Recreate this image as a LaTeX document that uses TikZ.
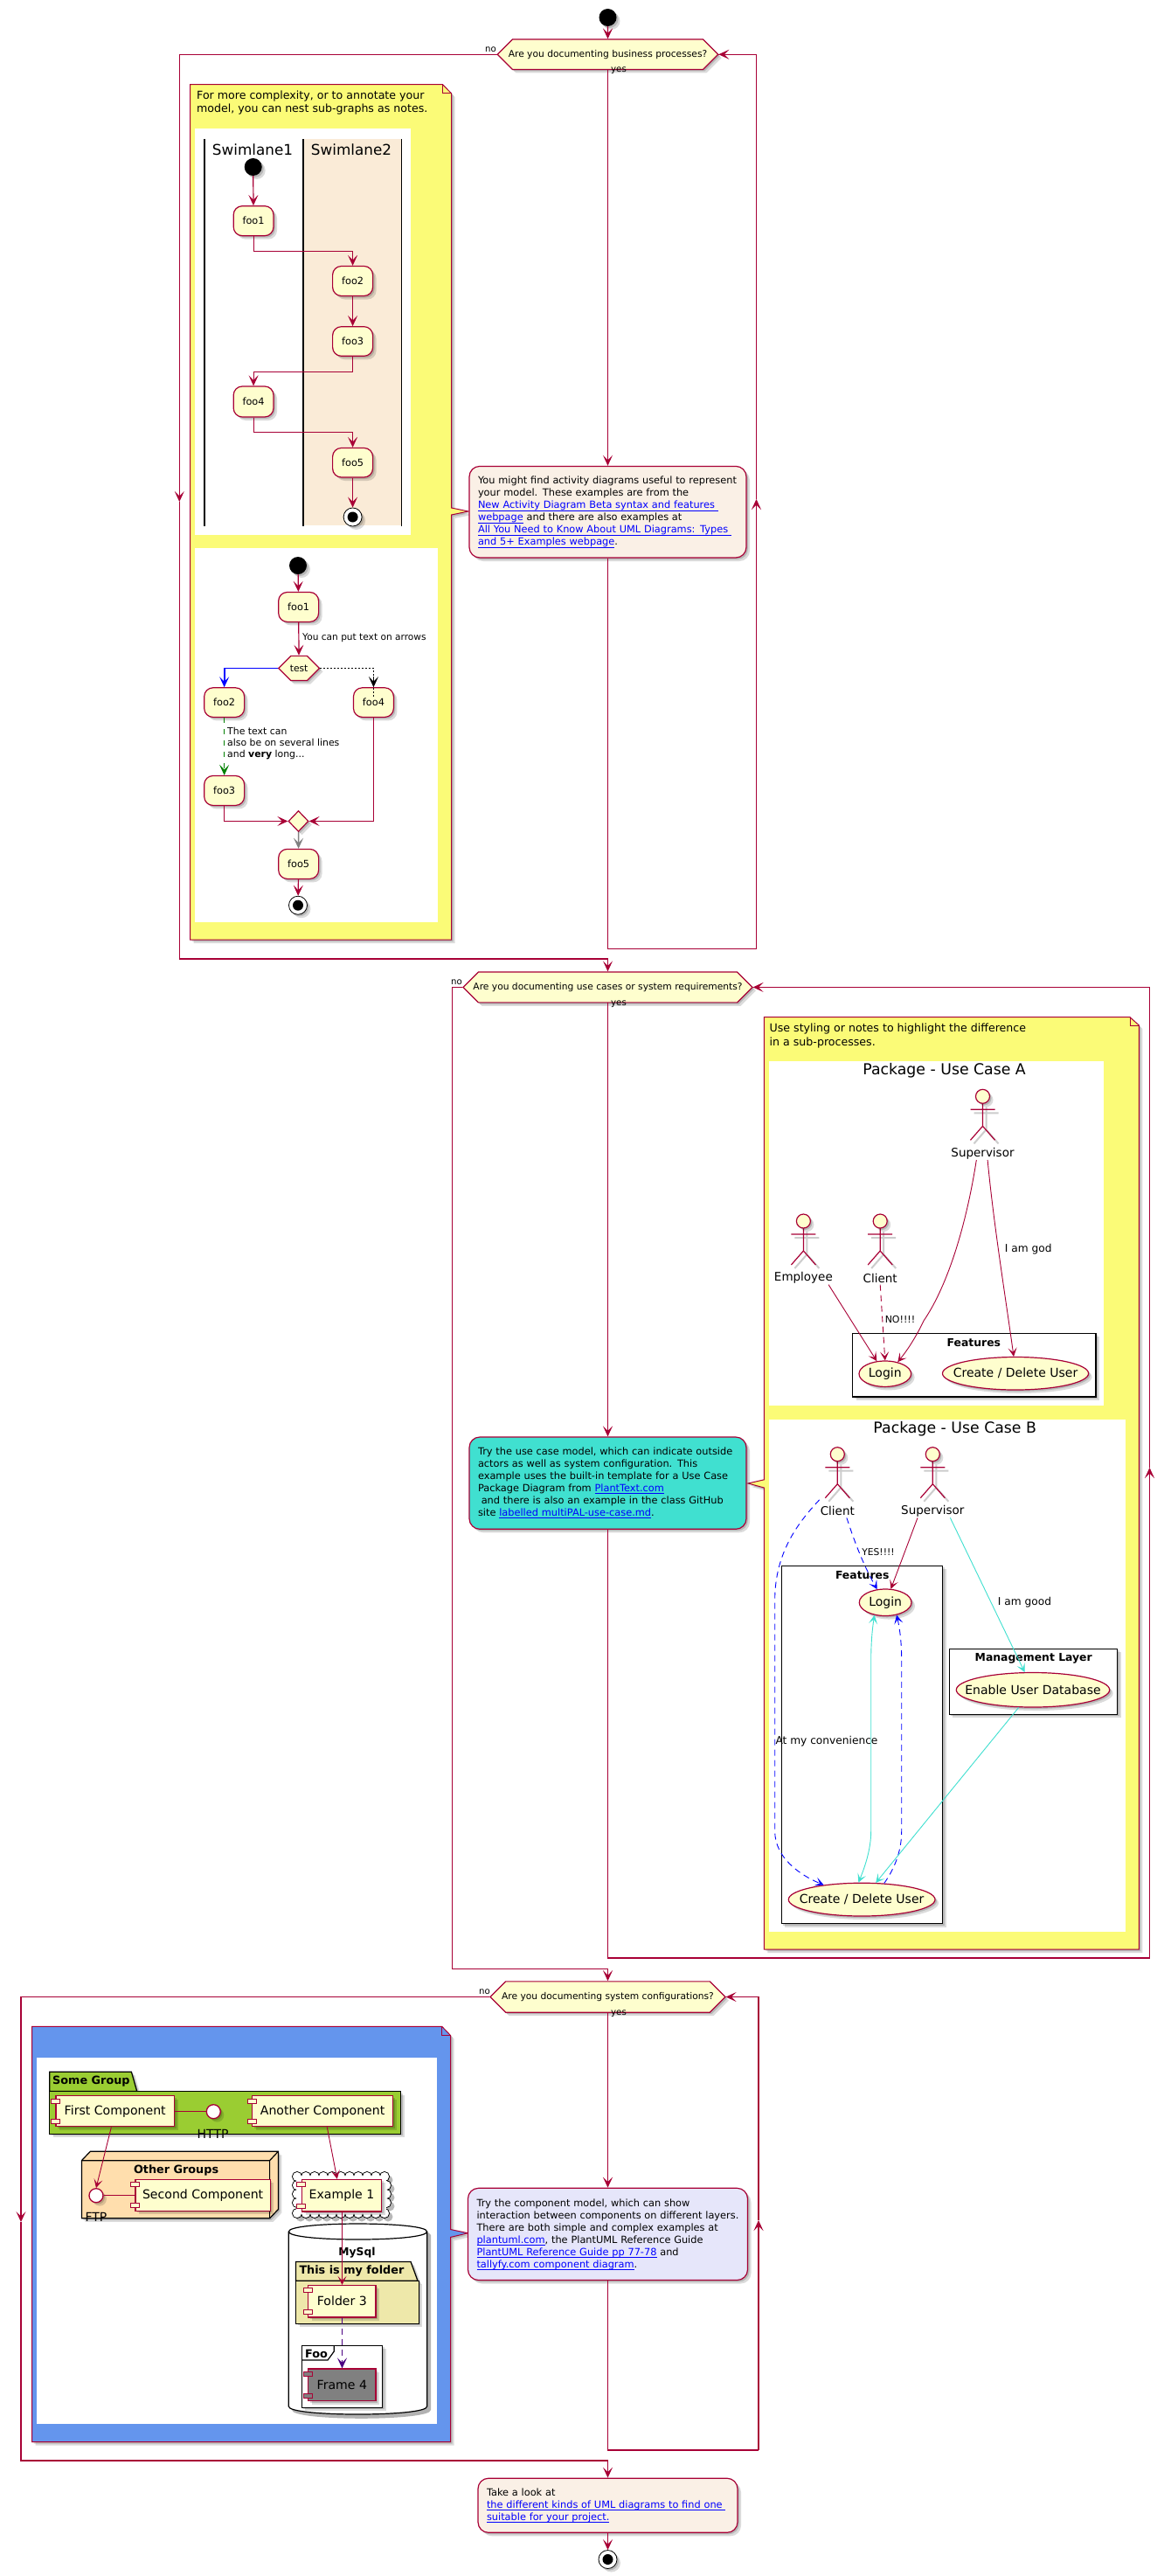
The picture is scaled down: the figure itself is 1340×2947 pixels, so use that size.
\documentclass[tikz,border=0pt]{standalone}
\usepackage{fontspec}
\setmainfont{DejaVu Sans}
\usetikzlibrary{arrows.meta,shapes.geometric,shapes.misc,shadows,calc}
\definecolor{crim}{HTML}{A80036}
\definecolor{pale}{HTML}{FEFECE}
\definecolor{noteyel}{HTML}{FBFB77}
\definecolor{lane}{HTML}{FAEBD7}
\definecolor{linenc}{HTML}{FAF0E6}
\definecolor{turq}{HTML}{40E0D0}
\definecolor{lav}{HTML}{E6E6FA}
\definecolor{cornf}{HTML}{6495ED}
\definecolor{ygreen}{HTML}{9ACD32}
\definecolor{navajo}{HTML}{FFDEAD}
\definecolor{goldn}{HTML}{EEE8AA}
\definecolor{indig}{HTML}{4B0082}
\definecolor{grayc}{HTML}{808080}
\newlength\lnkw
\newcommand\lnk[1]{\settowidth\lnkw{#1}{\color{blue}\rlap{\rule[-2.4pt]{\lnkw}{.7pt}}#1}}
\newcommand\LL[1]{\makebox[0pt][l]{#1}}
\newcommand\ZZ[1]{\makebox[0pt]{#1}}
\newcommand\fs[2]{\fontsize{#1}{#2}\selectfont}
\tikzset{
 softshadow/.style={drop shadow={shadow xshift=2pt,shadow yshift=-2pt,fill=black,opacity=.16},drop shadow={shadow xshift=4pt,shadow yshift=-4pt,fill=black,opacity=.14}},
 cbox/.style args={#1/#2/#3/#4}{at={({(#1+#3)/2},{(#2+#4)/2})},minimum width={(#3-#1)*1pt},minimum height={(#4-#2)*1pt},inner sep=0pt},
 flowline/.style={draw=crim,line width=1.2pt},
 bigtip/.style={-{Stealth[length=12pt,width=11pt,inset=5.5pt]}},
 flow/.style={flowline,bigtip},
 thinl/.style={draw=crim,line width=.9pt},
 thina/.style={thinl,-{Stealth[length=10pt,width=10pt,inset=5pt]}},
 lab/.style={inner sep=0pt,font=\fs{10.2}{12}},
 foo/.style={draw=crim,line width=1.2pt,fill=pale,rounded corners=10pt,softshadow,font=\fs{11.3}{13}},
 hexq/.style={chamfered rectangle,chamfered rectangle xsep=11pt,draw=crim,line width=1.2pt,fill=pale,softshadow,font=\fs{10.7}{12}},
 startc/.style={circle,fill=black,minimum size=20pt,inner sep=0pt,softshadow},
 endo/.style={circle,draw=black,fill=white,line width=.8pt,minimum size=21pt,inner sep=0pt,softshadow},
 endi/.style={circle,fill=black,minimum size=12pt,inner sep=0pt},
 notepath/.style={draw=crim,line width=1pt,softshadow},
 nodetext/.style={inner sep=0pt,align=left,anchor=north west,font=\fs{12.6}{15}},
 actnote/.style={draw=crim,line width=1.2pt,rounded corners=12pt,softshadow,align=left,font=\fs{11.35}{14}},
 ucase/.style={ellipse,draw=crim,line width=1.2pt,fill=pale,softshadow,font=\fs{14}{16}},
 pkg/.style={draw=black,line width=1.2pt,fill=white,softshadow},
 pkgt/.style={inner sep=0pt,font=\bfseries\fs{12.4}{14}},
 pkgb/.style={inner sep=0pt,font=\bfseries\fs{12.8}{15}},
 actl/.style={inner sep=0pt,font=\fs{13.5}{15}},
 elab/.style={inner sep=0pt,font=\fs{12.2}{14}},
 compbox/.style={draw=crim,line width=1.2pt,fill=pale,softshadow,font=\fs{14.1}{16}},
 compport/.style={draw=crim,line width=1pt,minimum width=10pt,minimum height=5pt,inner sep=0pt},
 ifc/.style={circle,draw=crim,line width=1.3pt,fill=white,minimum size=16pt,inner sep=0pt,softshadow},
 blk/.style={draw=black,line width=1.2pt},
 ifct/.style={inner sep=0pt,font=\fs{14}{16}},
}
\newcommand\compo[7]{%
 \node[compbox,fill=#7,cbox=#2/#3/#4/#5] (#1) {#6};
 \node[compport,fill=#7,at={([yshift=-6.5pt]#1.north west)}] (#1pa) {};
 \node[compport,fill=#7,at={([yshift=6.5pt]#1.south west)}] (#1pb) {};
}
\newcommand\actor[5]{%
 \draw[black!20,line width=2pt,shift={(4pt,-4pt)}] (#2-14,#3+15)--(#2+14,#3+15) (#2,#3+8)--(#2,#3+34)--(#2-14,#3+50) (#2,#3+34)--(#2+14,#3+50);
 \draw[crim,line width=1.2pt] (#2-14,#3+15)--(#2+14,#3+15) (#2,#3+8)--(#2,#3+34)--(#2-14,#3+50) (#2,#3+34)--(#2+14,#3+50);
 \node[circle,draw=crim,line width=1.2pt,fill=pale,minimum size=16pt,inner sep=0pt,softshadow] (#1h) at (#2,#3) {};
 \node[actl,minimum width=#5*2pt,minimum height=15pt] (#1) at (#2,#3+65) {#4};
}
\begin{document}
\begin{tikzpicture}[x=1pt,y=-1pt]
\useasboundingbox (0,0) rectangle (1340,2947);
\fill[white] (0,0) rectangle (1340,2947);

%%%%%%%%%%%%%%%%%%%% first block
\draw[notepath,fill=noteyel] (217.6,96.5)--(506.4,96.5)--(516.5,106.8)--(516.5,581)--(536,585)--(516.5,589)--(516.5,1075)--(217.6,1075)--cycle;
\draw[crim,line width=.8pt] (506.4,96.5)--(506.4,106.8)--(516.5,106.8);
\node[nodetext] (n1t) at (224.5,103.5) {\LL{For more complexity, or to annotate your}\\\LL{model, you can nest sub-graphs as notes.}};
\fill[white] (223,147) rectangle (470,612);
\fill[lane] (346.7,159) rectangle (459.6,601);
\draw[black,line width=1.7pt] (233.7,159)--(233.7,602) (346.7,159)--(346.7,602) (459.6,159)--(459.6,602);
\node[inner sep=0pt,font=\fs{16.8}{20}] (sw1) at (289,171) {Swimlane1};
\node[inner sep=0pt,font=\fs{16.8}{20}] (sw2) at (402,171) {Swimlane2};
\node[startc] (ss) at (289.7,191) {};
\node[foo,cbox=267.2/235.7/313/269.7] (sf1) {foo1};
\node[foo,cbox=380.6/304.5/426.6/338.5] (sf2) {foo2};
\node[foo,cbox=380.6/373.7/426.6/407.3] (sf3) {foo3};
\node[foo,cbox=267.2/442/313/477] (sf4) {foo4};
\node[foo,cbox=380.6/512.5/426.6/546] (sf5) {foo5};
\node[endo] (se) at (403.6,591.5) {};
\node[endi] (sei) at (se.center) {};
\coordinate (sj1) at (0,287.5);
\coordinate (sj2) at (0,425.5);
\coordinate (sj3) at (0,494.3);
\draw[flow] (ss)--(sf1);
\draw[flowline] (sf1.south)--(sf1.south|-sj1)--(sf2.north|-sj1);
\draw[flow] (sf2.north|-sj1)--(sf2.north);
\draw[flow] (sf2)--(sf3);
\draw[flowline] (sf3.south)--(sf3.south|-sj2)--(sf4.north|-sj2);
\draw[flow] (sf4.north|-sj2)--(sf4.north);
\draw[flowline] (sf4.south)--(sf4.south|-sj3)--(sf5.north|-sj3);
\draw[flow] (sf5.north|-sj3)--(sf5.north);
\draw[flow] (sf5)--(se);

\fill[white] (223,627) rectangle (501,1054.6);
\node[startc] (as) at (341,647) {};
\node[foo,cbox=318.7/677.5/364.6/711.4] (af1) {foo1};
\node[lab,anchor=west,font=\fs{10.6}{12}] (atxt) at (346,729.3) {You can put text on arrows};
\node[hexq,chamfered rectangle ysep=12pt,cbox=318.7/752.5/365.5/776.4] (atest) {test};
\node[foo,cbox=233.7/786.8/279.6/820.4] (af2) {foo2};
\node[foo,cbox=404.5/786.8/450.4/820.4] (af4) {foo4};
\node[foo,cbox=233.7/887.5/279.6/921.4] (af3) {foo3};
\node[diamond,aspect=1,draw=crim,line width=1.2pt,fill=pale,softshadow,cbox=330/927.5/353/951.4] (adia) {};
\node[foo,cbox=318.7/971.4/364.6/1005.4] (af5) {foo5};
\node[endo] (ae) at (341,1035.7) {};
\node[endi] (aei) at (ae.center) {};
\draw[flow] (as)--(af1);
\draw[flow] (af1)--(atest);
\draw[bigtip,blue,line width=1.8pt] (atest.west)-|(af2.north);
\draw[black,line width=1.2pt,dash pattern=on 1.5pt off 2.5pt] (atest.east)-|($(af4.north)+(0,-12pt)$);
\draw[bigtip,black,line width=1.2pt] ($(af4.north)+(0,12pt)$)--(af4.north);
\draw[bigtip,green!50!black,line width=1.4pt,dash pattern=on 6pt off 7pt] (af2)--(af3);
\node[lab,anchor=north west,align=left,font=\fs{10.9}{13}] (agreen) at (260,832) {The text can\\also be on several lines\\and \textbf{very} long...};
\draw[flow] (af3.south)|-(adia.west);
\draw[flow] (af4.south)|-(adia.east);
\draw[bigtip,gray,line width=1.5pt] (adia)--(af5);
\draw[flow] (af5)--(ae);

\node[startc] (s1) at (695.5,20) {};
\node[hexq,chamfered rectangle ysep=12pt,cbox=569.3/50.2/821.7/74.3] (q1) {Are you documenting business processes?};
\node[lab,anchor=east] (q1no) at (568,56.5) {no};
\node[lab,anchor=west] (q1yes) at (699,80.5) {yes};
\node[actnote,fill=linenc,text width=297pt,cbox=537/533.4/854/638] (n1) {\LL{You might find activity diagrams useful to represent}\\\LL{your model. These examples are from the}\\\LL{\lnk{New Activity Diagram Beta syntax and features~}}\\\LL{\lnk{webpage} and there are also examples at}\\\LL{\lnk{All You Need to Know About UML Diagrams: Types~}}\\\LL{\lnk{and 5+ Examples webpage}.}};
\draw[flow] (s1)--(q1);
\draw[flow] (q1.south)--(n1.north);
\coordinate (l1a) at (205.3,574);
\coordinate (l1b) at (205.3,1097);
\coordinate (l1c) at (865.5,571);
\coordinate (l1d) at (865.5,1085.7);
\node[hexq,chamfered rectangle ysep=12.3pt,cbox=530/1117/861/1141.8] (q2) {Are you documenting use cases or system requirements?};
\draw[flow] (q1.west)-|(l1a);
\draw[flow] (l1a)--(l1b)-|(q2.north);
\draw[flowline] (n1.south)|-(l1d);
\draw[flow] (l1d)--(l1c);
\draw[flowline] (l1c)|-(q1.east);
\draw[flow] ($(q1.east)+(14pt,0)$)--(q1.east);

%%%%%%%%%%%%%%%%%%%% second block
\node[lab,anchor=east] (q2no) at (529,1123.6) {no};
\node[lab,anchor=west] (q2yes) at (699,1148.5) {yes};
\draw[notepath,fill=noteyel] (874.4,1163.6)--(1293,1163.6)--(1303.4,1173)--(1303.4,2230)--(874.4,2230)--(874.4,1702)--(856,1697)--(874.4,1692.8)--cycle;
\draw[crim,line width=.8pt] (1293,1163.6)--(1293,1173)--(1303.4,1173);
\node[nodetext,font=\fs{12.6}{16}] (n2t) at (880,1170.5) {\LL{Use styling or notes to highlight the difference}\\\LL{in a sub-processes.}};
\fill[white] (879.8,1214.3) rectangle (1263,1607.5);
\node[inner sep=0pt,font=\fs{17.3}{20}] (pA) at (1080.6,1225) {Package - Use Case A};
\node[pkg,cbox=975.6/1525.4/1254/1598] (fA) {};
\node[pkgt] (fAt) at (1114.4,1536.4) {Features};
\node[ucase,cbox=983/1557/1042.6/1586.4] (loginA) {\ZZ{Login}};
\node[ucase,cbox=1078.5/1552.5/1245.6/1590] (createA) {\ZZ{Create / Delete User}};
\actor{supA}{1124.5}{1254.3}{Supervisor}{29}
\actor{empA}{919.4}{1397}{Employee}{28}
\actor{cliA}{1007.2}{1397}{Client}{20}
\draw[thina] (empA.-15)--(loginA.123);
\draw[thina,dash pattern=on 7pt off 5pt] (cliA.south)--(loginA.north);
\node[elab,font=\fs{11}{13}] (noT) at (1030,1509) {NO!!!!};
\draw[thina] (supA.-133) .. controls (1106,1400) and (1085,1470) .. (1057,1511) .. controls (1048,1530) and (1038,1545) .. (loginA.43);
\draw[thina] (supA.-54) .. controls (1137,1400) and (1150,1480) .. (createA.96);
\node[elab,anchor=west] (godT) at (1149.7,1429) {I am god};

\fill[white] (880,1624) rectangle (1288,2210);
\node[inner sep=0pt,font=\fs{17.3}{20}] (pB) at (1092.7,1634.7) {Package - Use Case B};
\node[pkg,cbox=894.3/1791.2/1078.7/2200.6] (fB) {};
\node[pkgt] (fBt) at (986.7,1801.7) {Features};
\node[pkg,cbox=1086.3/1886.2/1278.7/1961.2] (mB) {};
\node[pkgt] (mBt) at (1182.7,1897) {Management Layer};
\node[ucase,cbox=983.3/1818/1043/1848.5] (loginB) {\ZZ{Login}};
\node[ucase,cbox=902.3/2154.2/1070/2192] (createB) {\ZZ{Create / Delete User}};
\node[ucase,cbox=1094.3/1913.5/1269.7/1953] (enableB) {\ZZ{Enable User Database}};
\actor{cliB}{958.3}{1663.7}{Client}{21}
\actor{supB}{1067.3}{1663.7}{Supervisor}{36}
\coordinate (cliBfoot) at (937.7,1715.8);
\tikzset{bluea/.style={blue,line width=.9pt,dash pattern=on 7pt off 5pt,-{Stealth[length=10pt,width=10pt,inset=5pt]}},
 turqa/.style={turq,line width=.9pt,-{Stealth[length=10pt,width=10pt,inset=5pt]}}}
\draw[bluea] (cliB.-36) .. controls (975,1755) and (985,1785) .. (loginB.122);
\node[elab,font=\fs{10.7}{13}] (yesT) at (1005,1775.2) {YES!!!!};
\draw[thina] (supB.-156) -- (loginB.68);
\draw[turqa] (supB.-21) -- (enableB.115);
\node[elab,anchor=west] (goodT) at (1141.7,1833.3) {I am good};
\draw[bluea] (cliBfoot) .. controls (915,1740) and (886.7,1775) .. (886.7,1830) -- (886.7,2095) .. controls (886.7,2125) and (915,2145) .. (createB.159);
\node[elab,anchor=west] (convT) at (887.3,1992.4) {At my convenience};
\draw[turqa,{Stealth[length=10pt,width=10pt,inset=5pt]}-{Stealth[length=10pt,width=10pt,inset=5pt]}] (loginB.-131) .. controls (998,1865) and (996.7,1880) .. (996.7,1900) -- (996.7,2095) .. controls (996.7,2115) and (990,2135) .. (createB.101);
\draw[bluea] (createB.36) .. controls (1022,2140) and (1031.7,2120) .. (1031.7,2095) -- (1031.7,1900) .. controls (1031.7,1880) and (1030,1865) .. (loginB.-48);
\draw[turqa] (enableB.-129) -- (createB.50);

\node[actnote,fill=turq,text width=297pt,cbox=537/1644/854/1749.3] (n2) {\LL{Try the use case model, which can indicate outside}\\\LL{actors as well as system configuration. This}\\\LL{example uses the built-in template for a Use Case}\\\LL{Package Diagram from \lnk{PlantText.com}}\\\LL{~and there is also an example in the class GitHub}\\\LL{site \lnk{labelled multiPAL-use-case.md}.}};
\draw[flow] (q2.south)--(n2.north);
\coordinate (l2a) at (517.5,2252.5);
\coordinate (l2b) at (1315.5,1679);
\coordinate (l2c) at (1315.5,2240);
\node[hexq,chamfered rectangle ysep=12.5pt,cbox=561/2272/830/2297] (q3) {Are you documenting system configurations?};
\draw[flowline] (q2.west)-|(l2a);
\draw[flow] (l2a)-|(q3.north);
\draw[flowline] (n2.south)|-(l2c);
\draw[flow] (l2c)--(l2b);
\draw[flowline] (l2b)|-(q2.east);
\draw[flow] ($(q2.east)+(14pt,0)$)--(q2.east);

%%%%%%%%%%%%%%%%%%%% third block
\node[lab,anchor=east] (q3no) at (561,2279) {no};
\node[lab,anchor=west] (q3yes) at (699,2304) {yes};
\draw[notepath,fill=cornf] (36.7,2318.3)--(505.7,2318.3)--(515.5,2328.5)--(515.5,2550.5)--(535.6,2554.7)--(515.5,2559.4)--(515.5,2793.5)--(36.7,2793.5)--cycle;
\draw[crim,line width=.8pt] (505.7,2318.3)--(505.7,2328.5)--(515.5,2328.5);
\fill[white] (42,2354) rectangle (500,2772.6);

% Some Group
\draw[blk,fill=ygreen,softshadow] (56.8,2392.5)--(56.8,2370.2)--(150.4,2370.2)--(156.7,2392.5)--cycle;
\node[blk,fill=ygreen,softshadow,cbox=56.8/2392.5/458.7/2441.3] (gSome) {};
\node[pkgb,anchor=west] (gSomeT) at (60,2381.3) {Some Group};
\compo{cFirst}{64}{2397.7}{199.5}{2432.8}{First Component}{pale}
\compo{cAnother}{288.7}{2397.7}{449.5}{2432.8}{Another Component}{pale}
\node[ifc] (iHttp) at (244.3,2415.7) {};
\node[ifct] (iHttpT) at (243.6,2441) {HTTP};
\draw[thinl] (cFirst.east|-iHttp)--(iHttp);

% Other Groups
\draw[blk,fill=navajo,softshadow] (93.4,2471.7)--(103.3,2461.3)--(318.4,2461.3)--(318.4,2527.5)--(308.6,2537.8)--(93.4,2537.8)--cycle;
\draw[blk] (93.4,2471.7)--(308.6,2471.7)--(318.4,2461.3) (308.6,2471.7)--(308.6,2537.8);
\node[pkgb] (gOther) at (201.6,2483.3) {Other Groups};
\compo{cSecond}{155}{2493.4}{309.3}{2529.3}{Second Component}{pale}
\node[ifc] (iFtp) at (110,2511.7) {};
\node[ifct] (iFtpT) at (110,2536.6) {FTP};
\draw[thinl] (iFtp)--(cSecond.west|-iFtp);
\draw[thina] (cFirst.south-|127.4,0)--(iFtp.north);

% Cloud
\foreach \px in {340,350,...,442} \foreach \py in {2490,2532} {\fill[black!28] (\px+4,\py+4) circle (5.5);}
\foreach \py in {2500,2510,2520} \foreach \px in {340,442} {\fill[black!28] (\px+4,\py+4) circle (5.5);}
\foreach \px in {340,350,...,442} \foreach \py in {2490,2532} {\draw[black,line width=1pt] (\px,\py) circle (5.5);}
\foreach \py in {2500,2510,2520} \foreach \px in {340,442} {\draw[black,line width=1pt] (\px,\py) circle (5.5);}
\foreach \px in {340,350,...,442} \foreach \py in {2490,2532} {\fill[white] (\px,\py) circle (5);}
\foreach \py in {2500,2510,2520} \foreach \px in {340,442} {\fill[white] (\px,\py) circle (5);}
\node[fill=white,cbox=340/2490/442/2532] (cloudN) {};
\compo{cExample}{345.5}{2493.4}{436.5}{2530}{Example 1}{pale}
\draw[thina] (cAnother.south-|374.3,0)--(cExample.north-|385.8,0);

% MySql
\path[fill=black,opacity=.3] (334,2557) .. controls (334,2545) and (493,2545) .. (493,2557) -- (493,2757) .. controls (493,2770) and (334,2770) .. (334,2757) -- cycle;
\draw[blk,fill=white] (330.3,2553) .. controls (330.3,2541) and (488.7,2541) .. (488.7,2553) -- (488.7,2753) .. controls (488.7,2765) and (330.3,2765) .. (330.3,2753) -- cycle;
\draw[blk] (330.3,2553) .. controls (330.3,2565) and (488.7,2565) .. (488.7,2553);
\node[pkgb,font=\bfseries\fs{12.3}{14}] (dbT) at (408.5,2576.7) {MySql};
\draw[blk,fill=goldn,softshadow] (338.5,2609.3)--(338.5,2587.4)--(470,2587.4)--(478,2609.3)--cycle;
\node[blk,fill=goldn,softshadow,cbox=338.5/2609.3/479.3/2658.4] (gFolder) {};
\node[pkgb,anchor=west] (gFolderT) at (342.3,2598.3) {This is my folder};
\compo{cFolder}{352.7}{2614.4}{430}{2651}{Folder 3}{pale}
\node[blk,fill=white,softshadow,cbox=345.2/2683.3/437.7/2754.4] (gFoo) {};
\draw[blk] (382.3,2683.3)--(382.3,2690)--(375,2700)--(345.2,2700);
\node[pkgb,anchor=west] (gFooT) at (349,2693.3) {Foo};
\compo{cFrame}{352.7}{2710}{430}{2746.7}{Frame 4}{grayc}
\draw[thina,line width=1.1pt] (cExample.south-|391.5,0)--(cFolder.north-|391.5,0);
\draw[indig,line width=1.1pt,dash pattern=on 7pt off 5pt,bigtip] (cFolder.south-|391.5,0)--(cFrame.north-|391.5,0);

\node[actnote,fill=lav,text width=300pt,cbox=535.5/2503.3/855.5/2608.5] (n3) {\LL{Try the component model, which can show}\\\LL{interaction between components on different layers.}\\\LL{There are both simple and complex examples at}\\\LL{\lnk{plantuml.com}, the PlantUML Reference Guide}\\\LL{\lnk{PlantUML Reference Guide pp 77-78} and}\\\LL{\lnk{tallyfy.com component diagram}.}};
\draw[flow] (q3.south)--(n3.north);
\coordinate (l3a) at (24,2542);
\coordinate (l3b) at (24,2815);
\coordinate (l3c) at (868,2540);
\coordinate (l3d) at (868,2803);
\node[actnote,fill=linenc,text width=277pt,cbox=547/2835.2/844/2897.3] (n4) {\LL{Take a look at}\\\LL{\lnk{the different kinds of UML diagrams to find one~}}\\\LL{\lnk{suitable for your project.}}};
\draw[flow] (q3.west)-|(l3a);
\draw[flow] (l3a)--(l3b)-|(n4.north);
\draw[flowline] (n3.south)|-(l3d);
\draw[flow] (l3d)--(l3c);
\draw[flowline] (l3c)|-(q3.east);
\draw[flow] ($(q3.east)+(14pt,0)$)--(q3.east);
\node[endo] (e9) at (695.5,2928) {};
\node[endi] (e9i) at (e9.center) {};
\draw[flow] (n4.south)--(e9);
\end{tikzpicture}
\end{document}
